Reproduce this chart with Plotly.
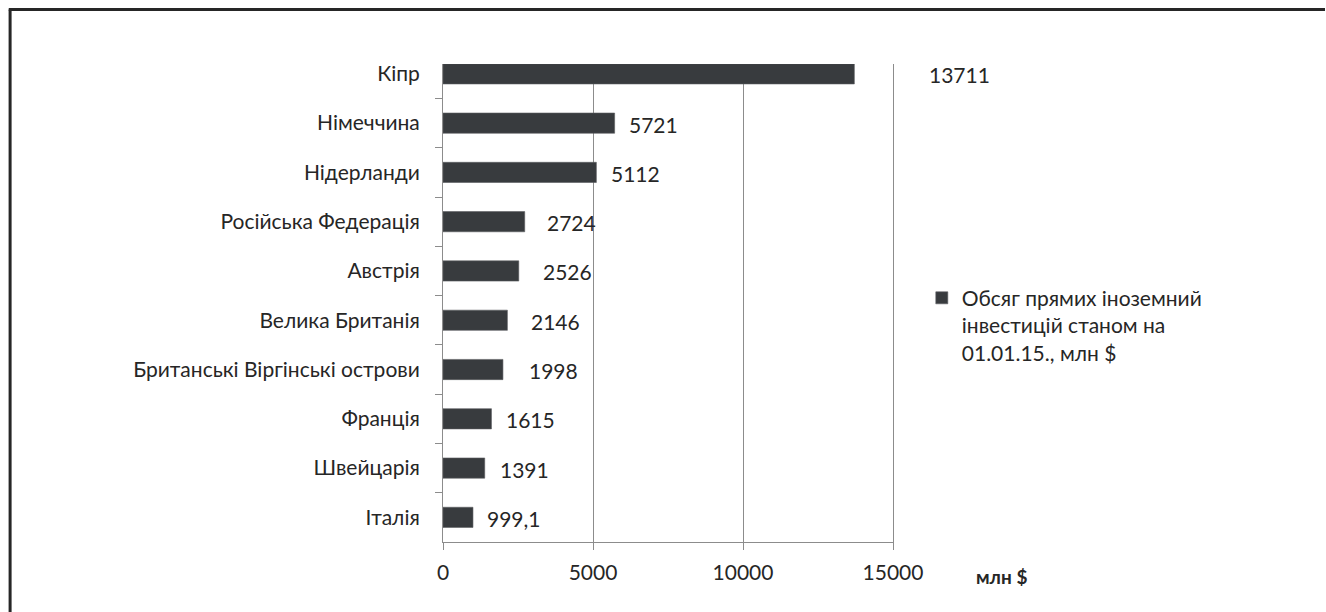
import plotly.graph_objects as go

# Foreign direct investment stock by country of origin, mln $
countries = [
    "Кіпр",
    "Німеччина",
    "Нідерланди",
    "Російська Федерація",
    "Австрія",
    "Велика Британія",
    "Британські Віргінські острови",
    "Франція",
    "Швейцарія",
    "Італія",
]
values = [13711, 5721, 5112, 2724, 2526, 2146, 1998, 1615, 1391, 999.1]
value_labels = ["13711", "5721", "5112", "2724", "2526", "2146", "1998", "1615", "1391", "999,1"]
series_name = "Обсяг прямих іноземний<br>інвестицій станом на<br>01.01.15., млн $"
x_ticks = [0, 5000, 10000, 15000]
x_unit = "млн $"

# pixel gap between each bar end and its value label
label_gap_px = [73, 12, 13, 20, 22, 22, 24, 13, 13, 12]

FONT = "Lato"
TEXT = "#262626"
GRID = "#8c8c8c"
BAR = "#383b3e"
FRAME = "#262626"

fig = go.Figure()
fig.add_trace(go.Bar(
    x=values,
    y=countries,
    orientation="h",
    width=0.41,
    marker=dict(color=BAR, line=dict(color="#5a5d60", width=0.6)),
    name=series_name,
    showlegend=True,
    hoverinfo="x+y",
))

for v, c, t, g in zip(values, countries, value_labels, label_gap_px):
    fig.add_annotation(
        x=v, y=c, xref="x", yref="y",
        text=t, showarrow=False,
        xanchor="left", yanchor="middle",
        xshift=g, yshift=-1,
        font=dict(family=FONT, size=21, color=TEXT),
    )

# axis unit caption to the right of the value axis
fig.add_annotation(
    x=1.24, y=-0.072, xref="paper", yref="paper",
    text=f"<b>{x_unit}</b>", showarrow=False,
    xanchor="center", yanchor="middle",
    font=dict(family=FONT, size=19, color=TEXT),
)

# outer frame of the chart (left and top edges fall inside the page)
fig.add_shape(
    type="line", xref="paper", yref="paper",
    x0=-0.962, x1=-0.962, y0=-0.2, y1=1.114,
    line=dict(color=FRAME, width=3), layer="above",
)
fig.add_shape(
    type="line", xref="paper", yref="paper",
    x0=-0.965, x1=1.96, y0=1.114, y1=1.114,
    line=dict(color=FRAME, width=3), layer="above",
)

fig.update_layout(
    width=1326,
    height=612,
    margin=dict(l=443, r=433, t=64, b=70),
    paper_bgcolor="white",
    plot_bgcolor="white",
    font=dict(family=FONT, size=21, color=TEXT),
    bargap=0.59,
    legend=dict(
        x=1.064, y=0.553, xanchor="left", yanchor="top",
        valign="top",
        font=dict(family=FONT, size=21, color=TEXT),
        bgcolor="rgba(0,0,0,0)",
        itemclick=False,
    ),
    xaxis=dict(
        range=[0, 15000],
        tickvals=x_ticks,
        ticktext=[str(t) for t in x_ticks],
        showgrid=True, gridcolor=GRID, gridwidth=1,
        zeroline=False,
        showline=True, linecolor=GRID, linewidth=1,
        ticks="outside", ticklen=7, tickcolor=GRID, tickwidth=1,
        ticklabelstandoff=5,
        tickfont=dict(family=FONT, size=21, color=TEXT),
        fixedrange=True,
    ),
    yaxis=dict(
        type="category",
        categoryorder="array",
        categoryarray=countries,
        range=[9.5, -0.2],
        showgrid=False,
        zeroline=False,
        showline=True, linecolor=GRID, linewidth=1,
        mirror=True,
        ticks="outside", ticklen=7, tickcolor=GRID, tickwidth=1,
        tickson="boundaries",
        ticklabelstandoff=18,
        tickfont=dict(family=FONT, size=21, color=TEXT),
        fixedrange=True,
    ),
)

fig.write_html("out.html")
